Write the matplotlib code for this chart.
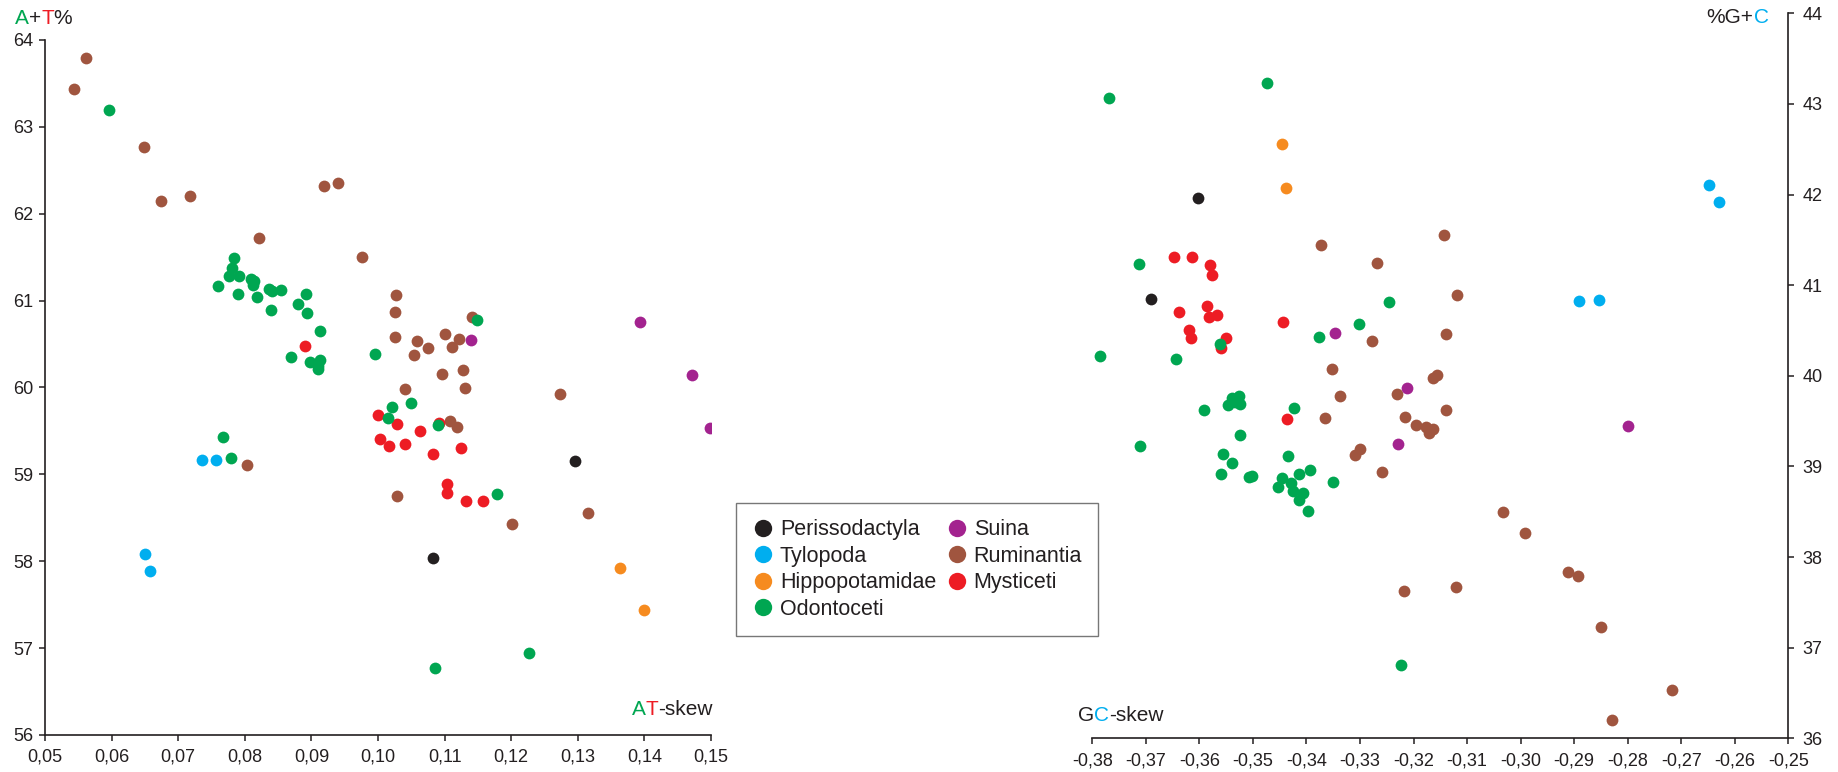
import matplotlib
matplotlib.use("Agg")
import matplotlib.pyplot as plt
from matplotlib.lines import Line2D
from matplotlib.ticker import FuncFormatter

plt.rcParams['font.family'] = ['Liberation Sans', 'DejaVu Sans']

groups = ["Perissodactyla", "Tylopoda", "Hippopotamidae", "Odontoceti",
          "Suina", "Ruminantia", "Mysticeti"]
colors = {"Perissodactyla": "#231f20", "Tylopoda": "#00aeef",
          "Hippopotamidae": "#f68b1f", "Odontoceti": "#00a651",
          "Suina": "#a3238f", "Ruminantia": "#a0553f", "Mysticeti": "#ed1c24"}

# left panel: AT-skew vs A+T%
at_skew = {
    "Perissodactyla": [0.1296, 0.1082],
    "Tylopoda": [0.0736, 0.0757, 0.0650, 0.0658],
    "Hippopotamidae": [0.1364, 0.1400],
    "Suina": [0.1139, 0.1393, 0.1471, 0.1499],
    "Mysticeti": [0.0890, 0.1000, 0.1003, 0.1017, 0.1029, 0.1063, 0.1092, 0.1041,
                  0.1082, 0.1124, 0.1104, 0.1104, 0.1132, 0.1158],
    "Odontoceti": [0.0596, 0.0784, 0.0781, 0.0776, 0.0792, 0.0760, 0.0810, 0.0814,
                   0.0812, 0.0790, 0.0819, 0.0837, 0.0841, 0.0855, 0.0839, 0.0892,
                   0.0880, 0.0893, 0.0913, 0.0869, 0.0898, 0.0913, 0.0910, 0.0910,
                   0.0995, 0.1021, 0.1015, 0.0767, 0.0779, 0.1149, 0.1049, 0.1090,
                   0.1179, 0.1227, 0.1086],
    "Ruminantia": [0.0562, 0.0544, 0.0648, 0.0674, 0.0717, 0.0919, 0.0940, 0.0822,
                   0.0976, 0.1027, 0.1026, 0.1026, 0.0804, 0.1028, 0.1141, 0.1101,
                   0.1122, 0.1111, 0.1058, 0.1075, 0.1054, 0.1096, 0.1128, 0.1130,
                   0.1040, 0.1108, 0.1119, 0.1273, 0.1201, 0.1315],
}
at_pct = {
    "Perissodactyla": [59.15, 58.04],
    "Tylopoda": [59.16, 59.17, 58.08, 57.89],
    "Hippopotamidae": [57.92, 57.44],
    "Suina": [60.55, 60.75, 60.14, 59.53],
    "Mysticeti": [60.48, 59.68, 59.41, 59.33, 59.58, 59.50, 59.59, 59.35,
                  59.23, 59.30, 58.89, 58.78, 58.69, 58.69],
    "Odontoceti": [63.19, 61.49, 61.37, 61.28, 61.28, 61.17, 61.25, 61.23,
                   61.18, 61.08, 61.04, 61.13, 61.11, 61.12, 60.89, 61.08,
                   60.96, 60.86, 60.65, 60.35, 60.29, 60.32, 60.25, 60.21,
                   60.38, 59.78, 59.65, 59.43, 59.19, 60.78, 59.82, 59.57,
                   58.77, 56.94, 56.77],
    "Ruminantia": [63.79, 63.44, 62.77, 62.15, 62.21, 62.32, 62.35, 61.72,
                   61.50, 61.06, 60.87, 60.58, 59.11, 58.75, 60.81, 60.62,
                   60.56, 60.47, 60.54, 60.45, 60.37, 60.15, 60.20, 59.99,
                   59.98, 59.62, 59.54, 59.93, 58.43, 58.56],
}

# right panel: GC-skew vs %G+C
gc_skew = {
    "Perissodactyla": [-0.3603, -0.3691],
    "Tylopoda": [-0.2891, -0.2854, -0.2648, -0.2630],
    "Hippopotamidae": [-0.3445, -0.3439],
    "Suina": [-0.3347, -0.3213, -0.3229, -0.2800],
    "Mysticeti": [-0.3648, -0.3614, -0.3580, -0.3576, -0.3638, -0.3586, -0.3582,
                  -0.3567, -0.3620, -0.3616, -0.3551, -0.3560, -0.3444, -0.3437],
    "Odontoceti": [-0.3769, -0.3474, -0.3713, -0.3562, -0.3786, -0.3644, -0.3376,
                   -0.3302, -0.3246, -0.3592, -0.3547, -0.3539, -0.3526, -0.3524,
                   -0.3534, -0.3424, -0.3524, -0.3710, -0.3556, -0.3539, -0.3560,
                   -0.3508, -0.3502, -0.3435, -0.3445, -0.3429, -0.3453, -0.3413,
                   -0.3394, -0.3425, -0.3406, -0.3413, -0.3398, -0.3350, -0.3223],
    "Ruminantia": [-0.3373, -0.3268, -0.3144, -0.3278, -0.3140, -0.3352, -0.3337,
                   -0.3365, -0.3231, -0.3163, -0.3156, -0.3139, -0.3216, -0.3195,
                   -0.3176, -0.3172, -0.3163, -0.3300, -0.3309, -0.3258, -0.3118,
                   -0.3033, -0.2992, -0.2912, -0.2893, -0.3120, -0.3218, -0.2850,
                   -0.2717, -0.2829],
}
gc_pct = {
    "Perissodactyla": [41.96, 40.85],
    "Tylopoda": [40.83, 40.84, 42.11, 41.92],
    "Hippopotamidae": [42.56, 42.07],
    "Suina": [40.47, 39.86, 39.25, 39.45],
    "Mysticeti": [41.31, 41.31, 41.22, 41.11, 40.70, 40.77, 40.65,
                  40.67, 40.50, 40.42, 40.42, 40.31, 40.59, 39.52],
    "Odontoceti": [43.06, 43.23, 41.23, 40.35, 40.22, 40.18, 40.43,
                   40.57, 40.81, 39.62, 39.68, 39.75, 39.78, 39.69,
                   39.71, 39.65, 39.35, 39.22, 39.14, 39.04, 38.92,
                   38.88, 38.89, 39.11, 38.87, 38.82, 38.77, 38.92,
                   38.96, 38.73, 38.71, 38.63, 38.51, 38.83, 36.81],
    "Ruminantia": [41.44, 41.25, 41.55, 40.38, 40.46, 40.07, 39.78,
                   39.53, 39.80, 39.98, 40.01, 39.62, 39.55, 39.46,
                   39.43, 39.37, 39.41, 39.19, 39.13, 38.94, 40.89,
                   38.50, 38.27, 37.84, 37.79, 37.67, 37.63, 37.23,
                   36.53, 36.20],
}

draw_order = ["Ruminantia", "Suina", "Mysticeti", "Odontoceti",
              "Perissodactyla", "Tylopoda", "Hippopotamidae"]

dark = "#231f20"
fig = plt.figure(figsize=(18.38, 7.72), dpi=100)
ax1 = fig.add_axes([0.02448, 0.04793, 0.36235, 0.90026])
ax2 = fig.add_axes([0.59429, 0.04365, 0.37867, 0.93912])

for g in draw_order:
    ax1.scatter(at_skew[g], at_pct[g], s=72, color=colors[g], linewidths=0, zorder=3)
    ax2.scatter(gc_skew[g], gc_pct[g], s=72, color=colors[g], linewidths=0, zorder=3)

comma = FuncFormatter(lambda v, p: f"{v:.2f}".replace(".", ","))

ax1.set_xlim(0.05, 0.15)
ax1.set_ylim(56, 64)
ax1.set_xticks([0.05 + 0.01 * i for i in range(11)])
ax1.set_yticks(range(56, 65))
ax1.xaxis.set_major_formatter(comma)
ax1.spines[["top", "right"]].set_visible(False)

ax2.set_xlim(-0.38, -0.25)
ax2.set_ylim(36, 44)
ax2.set_xticks([-0.38 + 0.01 * i for i in range(14)])
ax2.set_yticks(range(36, 45))
ax2.xaxis.set_major_formatter(comma)
ax2.yaxis.tick_right()
ax2.spines[["top", "left"]].set_visible(False)

for ax in (ax1, ax2):
    for sp in ax.spines.values():
        sp.set_color(dark)
        sp.set_linewidth(1.2)
    ax.tick_params(length=4, width=1.1, color=dark, labelcolor=dark, labelsize=13)
    ax.tick_params(axis="x", pad=6)
    ax.tick_params(axis="y", pad=4.5)
    ax.patch.set_alpha(0)
ax2.tick_params(axis="y", pad=6)


def color_text(x, y, parts, size=15):
    # first piece placed on baseline, the rest chained after it
    t = fig.text(x, y, parts[0][0], color=parts[0][1], fontsize=size, va="baseline")
    for s, c in parts[1:]:
        t = plt.annotate(s, xycoords=t, xy=(1, 0), va="bottom", color=c, fontsize=size,
                         annotation_clip=False)
    return t


W, H = 1838, 772
green, red, blue = "#00a651", "#ed1c24", "#00aeef"
color_text(15 / W, 1 - 24 / H, [("A", green), ("+", dark), ("T", red), ("%", dark)])
color_text(631.7 / W, 1 - 715 / H, [("A", green), ("T", red), ("-skew", dark)])
color_text(1078.3 / W, 1 - 720.7 / H, [("G", dark), ("C", blue), ("-skew", dark)])
color_text(1706.7 / W, 1 - 23.3 / H, [("%G+", dark), ("C", blue)])

handles = [Line2D([], [], marker="o", ls="", color=colors[g], markersize=12.5,
                  markeredgewidth=0) for g in groups]
leg = fig.legend(handles, groups, loc="center", bbox_to_anchor=(0.4989, 0.2623),
                 ncol=2, fontsize=15.5, frameon=True, fancybox=False,
                 edgecolor="#555555", borderpad=0.75, labelspacing=0.26,
                 handletextpad=0.3, columnspacing=0.45, handlelength=1.0,
                 borderaxespad=0)
leg.get_frame().set_linewidth(1.0)
for t in leg.get_texts():
    t.set_color(dark)

fig.savefig("out.png", dpi=100)
